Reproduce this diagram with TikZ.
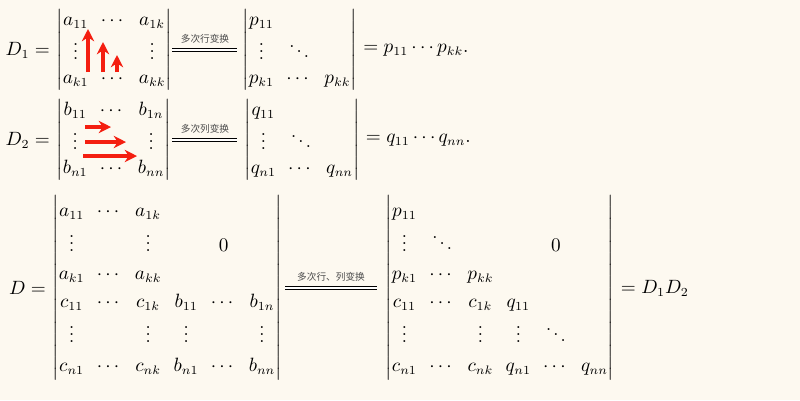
\documentclass[tikz,border=0pt]{standalone}
\usepackage{amsmath}
\usepackage{fontspec}
\newfontfamily\cjk{Noto Sans CJK SC}
\usetikzlibrary{positioning,calc,arrows.meta}
\definecolor{paper}{HTML}{FDF9F0}
\definecolor{arrowred}{HTML}{F41E10}
\tikzset{
    detnode/.style={inner sep=0pt,execute at begin node={\renewcommand\arraystretch{1.1}\setlength\arraycolsep{3.5pt}}},
    bignode/.style={inner sep=0pt,execute at begin node={\renewcommand\arraystretch{1.29}\setlength\arraycolsep{3.5pt}}},
    eqlabel/.style={font=\cjk\fontsize{5.5}{6}\selectfont,text=black!70,inner sep=1pt},
    swap/.style={draw=arrowred,line width=2pt,-{Stealth[length=7pt,width=7pt]}}
}
\begin{document}
\begin{tikzpicture}[x=0.02cm,y=-0.02cm,font=\fontsize{10.5}{12.5}\selectfont]
\useasboundingbox[fill=paper] (0,0) rectangle (800,400);
% first row
\node[anchor=east] (d1) at (56,50) {$D_1=$};
\node[detnode,anchor=west] (m1) at (d1.east) {$\begin{vmatrix}
  a_{11} & \cdots & a_{1k} \\
  \vdots & & \vdots \\
  a_{k1} & \cdots & a_{kk}
\end{vmatrix}$};
\node[eqlabel] (t1) at (205,39) {多次行变换};
\draw[double,double distance=1.5pt] (172,50) -- (237,50);
\node[detnode,anchor=west] (p1) at (242,50) {$\begin{vmatrix}
  p_{11} & & \\
  \vdots & \ddots & \\
  p_{k1} & \cdots & p_{kk}
\end{vmatrix}$};
\node[anchor=west] (r1) at (p1.east) {$=p_{11}\cdots p_{kk}.$};
\draw[swap] (88,72) -- (88,29);
\draw[swap] (103,72) -- (103,42);
\draw[swap] (117,72) -- (117,55);
% second row
\node[anchor=east] (d2) at (56,140) {$D_2=$};
\node[detnode,anchor=west] (m2) at (d2.east) {$\begin{vmatrix}
  b_{11} & \cdots & b_{1n} \\
  \vdots & & \vdots \\
  b_{n1} & \cdots & b_{nn}
\end{vmatrix}$};
\node[eqlabel] (t2) at (205,129) {多次列变换};
\draw[double,double distance=1.5pt] (172,140) -- (237,140);
\node[detnode,anchor=west] (q2) at (244,140) {$\begin{vmatrix}
  q_{11} & & \\
  \vdots & \ddots & \\
  q_{n1} & \cdots & q_{nn}
\end{vmatrix}$};
\node[anchor=west] (r2) at (q2.east) {$=q_{11}\cdots q_{nn}.$};
\draw[swap] (85,127) -- (111,127);
\draw[swap] (85,142) -- (126,142);
\draw[swap] (83,156) -- (137,156);
% third row
\node[anchor=east] (d) at (52,288) {$D=$};
\node[bignode,anchor=west] (m) at (d.east) {$\begin{vmatrix}
  a_{11} & \cdots & a_{1k} & & & \\
  \vdots & & \vdots & & 0 & \\
  a_{k1} & \cdots & a_{kk} & & & \\
  c_{11} & \cdots & c_{1k} & b_{11} & \cdots & b_{1n} \\
  \vdots & & \vdots & \vdots & & \vdots \\
  c_{n1} & \cdots & c_{nk} & b_{n1} & \cdots & b_{nn}
\end{vmatrix}$};
\node[eqlabel] (t3) at (331,277) {多次行、列变换};
\draw[double,double distance=1.5pt] (285,288) -- (377,288);
\node[bignode,anchor=west] (pq) at (385,288) {$\begin{vmatrix}
  p_{11} & & & & & \\
  \vdots & \ddots & & & 0 & \\
  p_{k1} & \cdots & p_{kk} & & & \\
  c_{11} & \cdots & c_{1k} & q_{11} & & \\
  \vdots & & \vdots & \vdots & \ddots & \\
  c_{n1} & \cdots & c_{nk} & q_{n1} & \cdots & q_{nn}
\end{vmatrix}$};
\node[anchor=west] (r3) at (pq.east) {$=D_1D_2$};
\end{tikzpicture}
\end{document}
